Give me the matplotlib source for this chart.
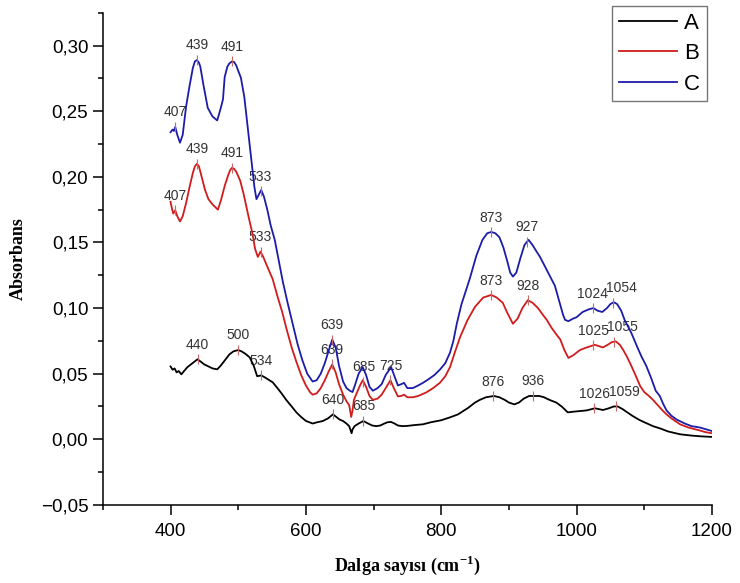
import numpy as np
import matplotlib
matplotlib.use("Agg")
import matplotlib.pyplot as plt
from matplotlib.ticker import MultipleLocator, FuncFormatter

plt.rcParams["mathtext.fontset"] = "custom"
plt.rcParams["mathtext.rm"] = "Liberation Serif:bold"
plt.rcParams["mathtext.bf"] = "Liberation Serif:bold"

# wavenumber (cm-1) / absorbance
x_A = [400, 403, 406, 409, 412, 416, 420, 425, 430, 435, 440, 445, 450, 455, 462, 469, 474, 480, 487, 493,
       500, 505, 511, 517, 523, 528, 534, 540, 546, 551, 558, 564, 571, 579, 586, 593, 600, 605, 610, 617,
       625, 633, 640, 645, 650, 655, 660, 664, 666, 667.6, 669, 672, 678, 685, 692, 698, 704, 710, 716, 721,
       726, 731, 736, 743, 750, 760, 773, 785, 800, 813, 825, 840, 850, 857, 866, 878, 886, 894, 900, 908,
       915, 922, 930, 937, 945, 952, 960, 970, 978, 987, 995, 1005, 1015, 1027, 1033, 1039, 1047, 1055, 1061, 1068,
       1075, 1083, 1092, 1100, 1113, 1125, 1135, 1153, 1170, 1185, 1200]
y_A = [0.0555, 0.053, 0.054, 0.051, 0.052, 0.0495, 0.052, 0.055, 0.057, 0.059, 0.061, 0.059, 0.057, 0.0558, 0.054,
       0.0533, 0.056, 0.060, 0.0647, 0.067, 0.068, 0.067, 0.065, 0.0624, 0.056, 0.048, 0.0487, 0.047, 0.045, 0.0434,
       0.039, 0.035, 0.030, 0.025, 0.0205, 0.017, 0.014, 0.013, 0.012, 0.013, 0.0139, 0.016, 0.019, 0.017, 0.015,
       0.0139, 0.012, 0.010, 0.007, 0.0046, 0.0075, 0.010, 0.012, 0.0139, 0.012, 0.0105, 0.010, 0.0105, 0.012, 0.013,
       0.0132, 0.012, 0.0105, 0.010, 0.0102, 0.0108, 0.0114, 0.013, 0.0145, 0.0167, 0.019, 0.024, 0.028, 0.030, 0.032,
       0.033, 0.032, 0.030, 0.028, 0.0266, 0.028, 0.031, 0.033, 0.033, 0.033, 0.032, 0.030, 0.028, 0.025, 0.0205,
       0.021, 0.0215, 0.022, 0.0236, 0.023, 0.0223, 0.0235, 0.025, 0.025, 0.023, 0.0205, 0.0177, 0.015, 0.013, 0.010,
       0.008, 0.006, 0.0038, 0.0028, 0.0022, 0.0018]

x_B = [400, 402, 404, 407, 410, 414, 418, 423, 428, 433, 436, 439, 442, 446, 451, 456, 462, 470, 475, 480, 485,
       488, 491, 494, 497, 503, 508, 512, 516, 521, 525, 529, 533, 537, 541, 546, 551, 558, 565, 572, 579, 586,
       593, 600, 606, 610, 616, 622, 628, 634, 639, 644, 649, 655, 660, 664, 667, 669, 671, 675, 680, 684, 689,
       694, 699, 706, 712, 718, 725, 730, 736, 741, 745, 750, 758, 766, 778, 788, 798, 806, 813, 820, 828, 839,
       850, 862, 874, 882, 891, 898, 906, 913, 920, 928, 935, 943, 950, 956, 963, 970, 976, 982, 988, 995,
       1005, 1015, 1027, 1033, 1039, 1046, 1052, 1058, 1064, 1069, 1074, 1080, 1087, 1094, 1100, 1107, 1113, 1120,
       1127, 1133, 1140, 1153, 1165, 1180, 1190, 1200]
y_B = [0.181, 0.176, 0.172, 0.1745, 0.170, 0.166, 0.170, 0.180, 0.192, 0.203, 0.208, 0.210, 0.208, 0.200, 0.190,
       0.183, 0.179, 0.175, 0.183, 0.193, 0.201, 0.205, 0.207, 0.206, 0.204, 0.197, 0.187, 0.1775, 0.168, 0.157,
       0.145, 0.139, 0.143, 0.139, 0.134, 0.128, 0.122, 0.109, 0.097, 0.083, 0.070, 0.059, 0.049, 0.041, 0.036,
       0.034, 0.035, 0.039, 0.045, 0.052, 0.057, 0.051, 0.042, 0.034, 0.029, 0.026, 0.017, 0.022, 0.030, 0.035,
       0.041, 0.045, 0.040, 0.033, 0.030, 0.031, 0.034, 0.039, 0.045, 0.039, 0.0327, 0.033, 0.034, 0.032, 0.032,
       0.033, 0.0357, 0.039, 0.043, 0.048, 0.055, 0.066, 0.078, 0.091, 0.101, 0.108, 0.110, 0.108, 0.104, 0.096,
       0.088, 0.092, 0.100, 0.106, 0.104, 0.100, 0.095, 0.091, 0.085, 0.080, 0.076, 0.068, 0.062, 0.064, 0.068,
       0.070, 0.072, 0.071, 0.070, 0.072, 0.074, 0.0746, 0.072, 0.068, 0.0634, 0.057, 0.049, 0.0406, 0.036, 0.033,
       0.030, 0.026, 0.022, 0.019, 0.016, 0.0114, 0.009, 0.007, 0.0055, 0.0046]

x_C = [400, 403, 405, 407, 410, 414, 418, 423, 428, 433, 436, 439, 442, 444, 449, 455, 462, 469, 474, 477.5,
       480, 484, 487, 491, 494, 497, 504, 509, 514, 519, 524, 527, 530, 534, 538, 543, 548, 554, 560, 566,
       573, 580, 588, 595, 602, 610, 616, 622, 628, 634, 639, 644, 649, 655, 660, 665, 669, 673, 678, 684,
       689, 694, 699, 706, 712, 718, 726, 731, 736, 741, 745, 750, 758, 766, 773, 782, 790, 798, 806, 813,
       818, 823, 830, 842, 852, 861, 868, 874, 880, 886, 892, 898, 902, 906, 911, 917, 923, 929, 935, 941,
       946, 952, 958, 963, 968, 975, 980, 983, 988, 995, 1000, 1009, 1018, 1025, 1031, 1038, 1045, 1050, 1055,
       1060, 1066, 1071, 1076, 1081, 1090, 1096, 1103, 1110, 1117, 1123, 1128, 1133, 1140, 1148, 1160, 1170,
       1182, 1192, 1200]
y_C = [0.234, 0.236, 0.235, 0.238, 0.232, 0.226, 0.232, 0.2536, 0.269, 0.283, 0.288, 0.289, 0.287, 0.284, 0.269,
       0.2526, 0.246, 0.243, 0.252, 0.259, 0.276, 0.284, 0.2865, 0.288, 0.2875, 0.285, 0.2755, 0.261, 0.238, 0.215,
       0.192, 0.183, 0.186, 0.190, 0.185, 0.175, 0.163, 0.152, 0.136, 0.120, 0.104, 0.089, 0.072, 0.060, 0.050,
       0.044, 0.045, 0.050, 0.058, 0.068, 0.076, 0.070, 0.056, 0.044, 0.039, 0.037, 0.036, 0.042, 0.050, 0.055,
       0.049, 0.040, 0.037, 0.039, 0.042, 0.049, 0.055, 0.048, 0.041, 0.042, 0.043, 0.039, 0.039, 0.041, 0.043,
       0.046, 0.049, 0.053, 0.058, 0.066, 0.075, 0.088, 0.103, 0.122, 0.140, 0.152, 0.157, 0.158, 0.157, 0.154,
       0.146, 0.135, 0.127, 0.124, 0.127, 0.138, 0.148, 0.152, 0.148, 0.143, 0.139, 0.133, 0.127, 0.122, 0.117,
       0.104, 0.095, 0.091, 0.090, 0.092, 0.093, 0.097, 0.099, 0.100, 0.098, 0.097, 0.100, 0.103, 0.1045, 0.103,
       0.098, 0.091, 0.086, 0.081, 0.070, 0.063, 0.056, 0.047, 0.037, 0.033, 0.027, 0.022, 0.018, 0.015, 0.012,
       0.010, 0.009, 0.0075, 0.0063]

# labelled peaks
peaks_A = [440, 500, 534, 640, 685, 876, 936, 1026, 1059]
peaks_B = [407, 439, 491, 533, 639, 685, 725, 873, 928, 1025, 1055]
peaks_C = [407, 439, 491, 533, 639, 873, 927, 1024, 1054]

series_names = ["A", "B", "C"]
colors = ["#000000", "#d01c1c", "#1c1ca8"]

fig = plt.figure(figsize=(7.4, 5.83), dpi=100)
ax = fig.add_axes([0.139, 0.134, 0.823, 0.844])

data = [(x_A, y_A, peaks_A), (x_B, y_B, peaks_B), (x_C, y_C, peaks_C)]
for (xs, ys, peaks), name, c in zip(data, series_names, colors):
    ax.plot(xs, ys, color=c, lw=1.3, label=name, zorder=3)
    for p in peaks:
        py = np.interp(p, xs, ys)
        # small red peak marker, label above it
        ax.plot(p, py, marker="|", markersize=7.5, mew=0.8, color="#c86a6a", zorder=4)
        dx = 6 if p > 1050 else 0
        ax.annotate(str(p), (p, py), xytext=(dx, 10.5), textcoords="offset points",
                    ha="center", va="center", fontsize=10, color="#333333",
                    family="Liberation Sans", zorder=1)

ax.set_xlim(300, 1200)
ax.set_ylim(-0.05, 0.325)
ax.xaxis.set_major_locator(MultipleLocator(200))
ax.xaxis.set_minor_locator(MultipleLocator(100))
ax.yaxis.set_major_locator(MultipleLocator(0.05))
ax.yaxis.set_minor_locator(MultipleLocator(0.025))
ax.yaxis.set_major_formatter(FuncFormatter(lambda v, pos: f"{v:.2f}".replace(".", ",").replace("-", "\u2212")))

for s in ["top", "right"]:
    ax.spines[s].set_visible(False)
for s in ["left", "bottom"]:
    ax.spines[s].set_linewidth(1.1)
ax.tick_params(which="major", length=7, width=1.1, labelsize=13.5, direction="out")
ax.tick_params(axis="x", which="major", pad=6)
ax.tick_params(which="minor", length=3.5, width=1.1, direction="out")
for lab in ax.get_xticklabels() + ax.get_yticklabels():
    lab.set_family("Liberation Sans")

ax.set_xlabel(r"Dalga sayısı (cm$^{\mathrm{-1}}$)", fontsize=13, fontweight="bold",
              family="Liberation Serif", labelpad=10)
ax.set_ylabel("Absorbans", fontsize=13, fontweight="bold", family="Liberation Serif", labelpad=10)

leg = ax.legend(loc="upper right", bbox_to_anchor=(0.992, 1.014), borderaxespad=0, fancybox=False,
                edgecolor="#555555", handlelength=2.6, labelspacing=0.43, handletextpad=0.35,
                borderpad=0.3, prop={"family": "Liberation Sans", "size": 16})
leg.get_frame().set_linewidth(1.0)

fig.savefig("out.png", dpi=100)
